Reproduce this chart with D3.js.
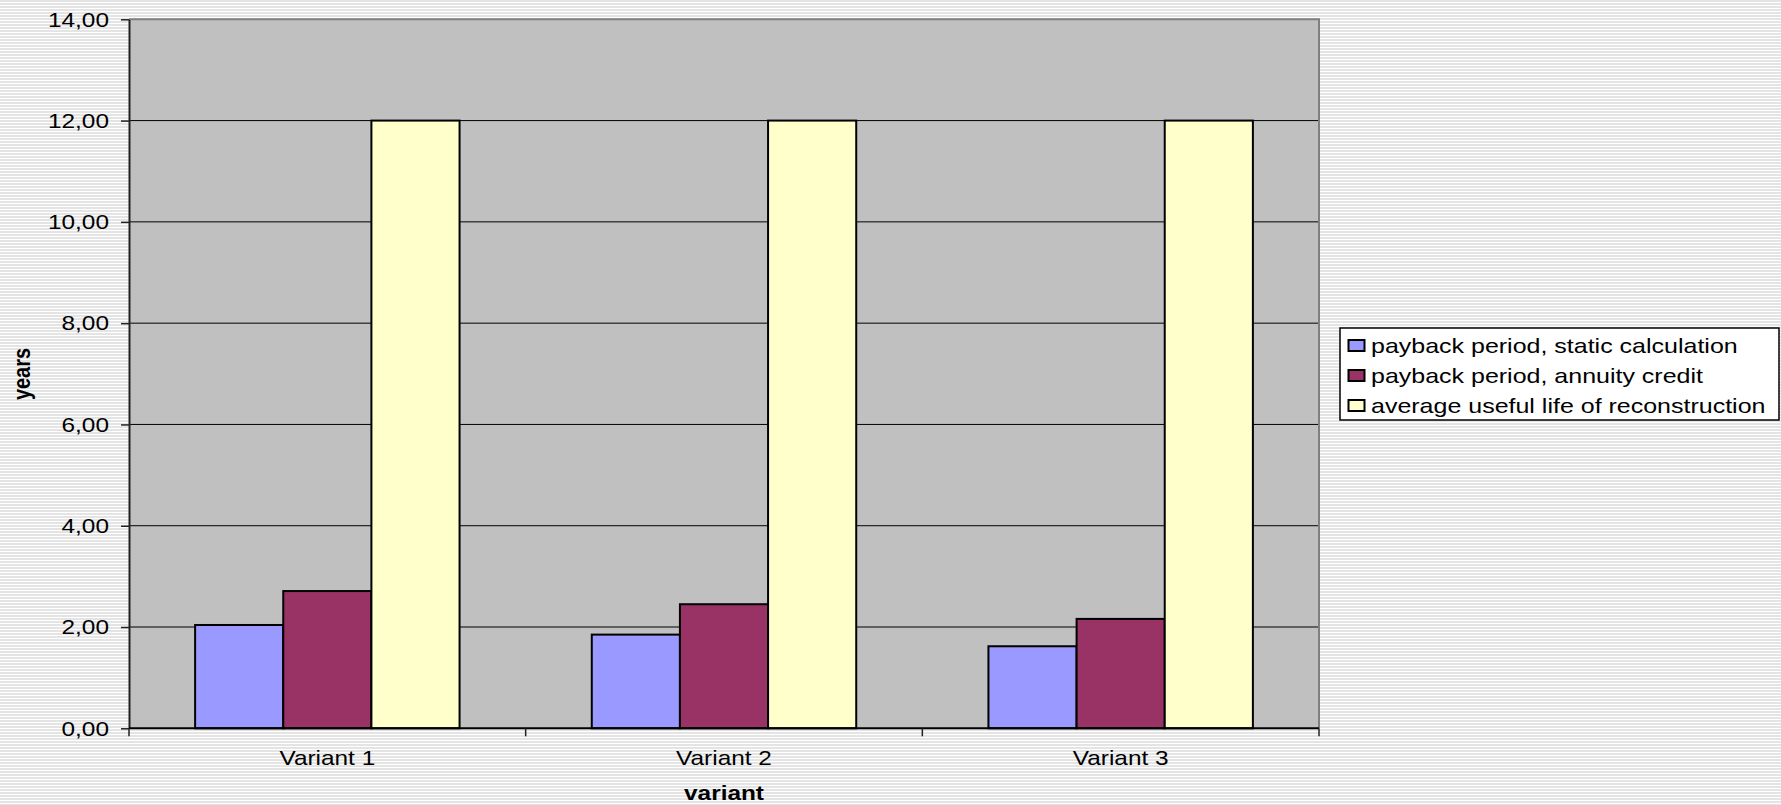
<!DOCTYPE html>
<html>
<head>
<meta charset="utf-8">
<script src="https://cdn.jsdelivr.net/npm/d3@7"></script>
<style>
  html, body { margin: 0; padding: 0; background: #fff; }
  svg { display: block; font-family: "Liberation Sans", Arial, sans-serif; }
</style>
</head>
<body>
<svg id="chart" width="1781" height="805"></svg>
<script>
// --- data ---
const categories = ["Variant 1", "Variant 2", "Variant 3"];
const seriesNames = [
  "payback period, static calculation",
  "payback period, annuity credit",
  "average useful life of reconstruction"
];
const staticPayback = [2.04, 1.85, 1.62];
const annuityPayback = [2.71, 2.45, 2.16];
const usefulLife = [12.0, 12.0, 12.0];
const yTicks = [0, 2, 4, 6, 8, 10, 12, 14];

const seriesColors = ["#9999ff", "#993366", "#ffffcc"];
const seriesValues = [staticPayback, annuityPayback, usefulLife];

// the original picture is stretched sideways, so text is too
const SX = 1.22;

const W = 1781, H = 805;
const margin = { top: 19.3, right: 462, bottom: 76.7, left: 129 };
const iw = W - margin.left - margin.right;
const ih = H - margin.top - margin.bottom;

const svg = d3.select("#chart");

// striped page background
const defs = svg.append("defs");
const pat = defs.append("pattern")
  .attr("id", "stripes")
  .attr("patternUnits", "userSpaceOnUse")
  .attr("width", 8).attr("height", 3);
pat.append("rect").attr("width", 8).attr("height", 3).attr("fill", "#ffffff");
pat.append("rect").attr("width", 8).attr("height", 2).attr("fill", "#e4e4e4");
svg.append("rect").attr("width", W).attr("height", H).attr("fill", "url(#stripes)");

const g = svg.append("g").attr("transform", `translate(${margin.left},${margin.top})`);

const x0 = d3.scaleBand().domain(categories).range([0, iw]).paddingInner(0).paddingOuter(0);
// Excel gap width 150%: bars take 3 of 4.5 units of each band
const gapRatio = 1.5 / 4.5;
const x1 = d3.scaleBand().domain(d3.range(seriesNames.length))
  .range([x0.bandwidth() * gapRatio / 2, x0.bandwidth() * (1 - gapRatio / 2)]).padding(0);
const y = d3.scaleLinear().domain([0, 14]).range([ih, 0]);

// plot area
g.append("rect").attr("width", iw).attr("height", ih).attr("fill", "#c0c0c0");

// gridlines
g.append("g").selectAll("line")
  .data(yTicks.filter(d => d > 0 && d < 14))
  .enter().append("line")
  .attr("x1", 0).attr("x2", iw)
  .attr("y1", d => y(d)).attr("y2", d => y(d))
  .attr("stroke", "#000").attr("stroke-width", 1);

// gray border top and right
g.append("path")
  .attr("d", `M0,${y(14)}H${iw}V${ih}`)
  .attr("fill", "none").attr("stroke", "#808080").attr("stroke-width", 2);

// bars
const groups = g.append("g").selectAll("g")
  .data(categories)
  .enter().append("g")
  .attr("transform", d => `translate(${x0(d)},0)`);

groups.selectAll("rect")
  .data((c, ci) => seriesValues.map((vals, si) => ({ si, v: vals[ci] })))
  .enter().append("rect")
  .attr("x", d => x1(d.si))
  .attr("y", d => y(d.v))
  .attr("width", x1.bandwidth())
  .attr("height", d => ih - y(d.v))
  .attr("fill", d => seriesColors[d.si])
  .attr("stroke", "#000").attr("stroke-width", 2);

// y axis
const loc = d3.formatLocale({ decimal: ",", thousands: ".", grouping: [3], currency: ["", ""] });
const fmt = loc.format(".2f");
const yAxis = g.append("g")
  .call(d3.axisLeft(y).tickValues(yTicks).tickFormat(fmt).tickSize(8).tickSizeOuter(0));
yAxis.select(".domain").attr("stroke", "#222").attr("stroke-width", 2);
yAxis.selectAll(".tick line").attr("stroke", "#222").attr("stroke-width", 1.5);
yAxis.selectAll(".tick text")
  .attr("x", 0).attr("dy", "0.34em")
  .attr("font-size", 20).attr("fill", "#000")
  .attr("font-family", "Liberation Sans, Arial, sans-serif")
  .attr("transform", `translate(-20,0) scale(${SX},1)`);

// x axis: ticks on category borders
const xAxis = g.append("g").attr("transform", `translate(0,${ih})`);
xAxis.append("line").attr("x1", 0).attr("x2", iw)
  .attr("stroke", "#000").attr("stroke-width", 2);
xAxis.selectAll(".xt")
  .data(d3.range(categories.length + 1))
  .enter().append("line")
  .attr("class", "xt")
  .attr("x1", i => i * x0.bandwidth()).attr("x2", i => i * x0.bandwidth())
  .attr("y1", 0).attr("y2", 8)
  .attr("stroke", "#222").attr("stroke-width", 1.5);
xAxis.selectAll(".xl")
  .data(categories)
  .enter().append("text")
  .attr("class", "xl")
  .attr("text-anchor", "middle")
  .attr("font-size", 20)
  .attr("transform", d => `translate(${x0(d) + x0.bandwidth() / 2},36.7) scale(${SX},1)`)
  .text(d => d);

// axis titles
svg.append("text")
  .attr("text-anchor", "middle").attr("font-size", 20).attr("font-weight", "bold")
  .attr("transform", `translate(${margin.left + iw / 2},${H - 5}) scale(${SX},1)`)
  .text("variant");

svg.append("text")
  .attr("text-anchor", "middle").attr("font-size", 20).attr("font-weight", "bold")
  .attr("transform", `translate(30,374) rotate(-90) scale(1,${SX})`)
  .text("years");

// legend
const lg = svg.append("g").attr("transform", "translate(1340,328)");
lg.append("rect").attr("width", 439).attr("height", 92)
  .attr("fill", "#fff").attr("stroke", "#000").attr("stroke-width", 1.5);
const rows = lg.selectAll(".row")
  .data(seriesNames)
  .enter().append("g")
  .attr("class", "row")
  .attr("transform", (d, i) => `translate(0,${18 + i * 30})`);
rows.append("rect")
  .attr("x", 8.5).attr("y", -6).attr("width", 16).attr("height", 11)
  .attr("fill", (d, i) => seriesColors[i])
  .attr("stroke", "#000").attr("stroke-width", 2);
rows.append("text")
  .attr("font-size", 21)
  .attr("transform", `translate(31,0) scale(1.19,1)`)
  .attr("dy", "0.35em")
  .text(d => d);
</script>
</body>
</html>
